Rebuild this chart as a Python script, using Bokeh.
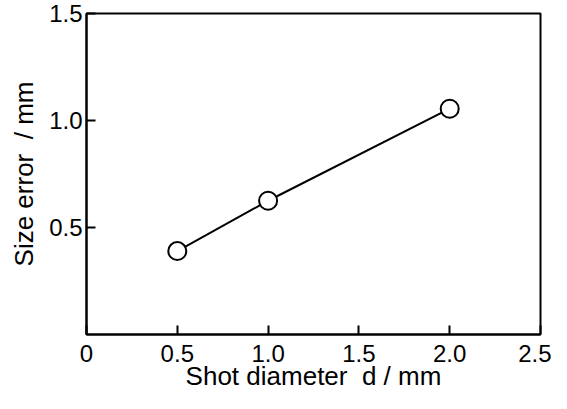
from bokeh.plotting import figure
from bokeh.models import Range1d, FixedTicker
from bokeh.embed import file_html
from bokeh.resources import INLINE

shot_diameter = [0.5, 1.0, 2.0]
size_error = [0.39, 0.625, 1.055]
x_ticks = [0, 0.5, 1.0, 1.5, 2.0, 2.5]
x_tick_labels = ["0", "0.5", "1.0", "1.5", "2.0", "2.5"]
y_ticks = [0.5, 1.0, 1.5]
y_tick_labels = ["0.5", "1.0", "1.5"]
x_title = "Shot diameter\u00a0\u00a0d / mm"
y_title = "Size error\u00a0\u00a0/ mm"

FONT = "Liberation Sans"

p = figure(width=551, height=393, output_backend="svg", toolbar_location=None,
           x_range=Range1d(0, 2.5), y_range=Range1d(0, 1.5),
           min_border_left=86, min_border_right=11, min_border_top=13, min_border_bottom=56)

p.grid.visible = False
p.outline_line_color = "black"
p.outline_line_width = 2
p.background_fill_color = "white"
p.border_fill_color = "white"

p.line(shot_diameter, size_error, line_color="black", line_width=2)
p.scatter(shot_diameter, size_error, size=18, fill_color="white", line_color="black", line_width=2)

p.xaxis.ticker = FixedTicker(ticks=x_ticks)
p.xaxis.major_label_overrides = {t: l for t, l in zip(x_ticks, x_tick_labels)}
p.yaxis.ticker = FixedTicker(ticks=y_ticks)
p.yaxis.major_label_overrides = {t: l for t, l in zip(y_ticks, y_tick_labels)}

p.xaxis.axis_label = x_title
p.yaxis.axis_label = y_title

for ax in (p.xaxis[0], p.yaxis[0]):
    ax.axis_line_color = "black"
    ax.axis_line_width = 2
    ax.major_tick_in = 9
    ax.major_tick_out = 0
    ax.major_tick_line_width = 2
    ax.minor_tick_line_color = None
    ax.major_label_text_font = FONT
    ax.major_label_text_font_size = "24px"
    ax.major_label_text_color = "black"
    ax.axis_label_text_font = FONT
    ax.axis_label_text_font_size = "26px"
    ax.axis_label_text_font_style = "normal"
    ax.axis_label_text_color = "black"

p.xaxis.major_label_standoff = 10
p.xaxis.axis_label_standoff = -4
p.yaxis.major_label_standoff = 4
p.yaxis.axis_label_standoff = 7

open("out.html", "w").write(file_html(p, INLINE))
